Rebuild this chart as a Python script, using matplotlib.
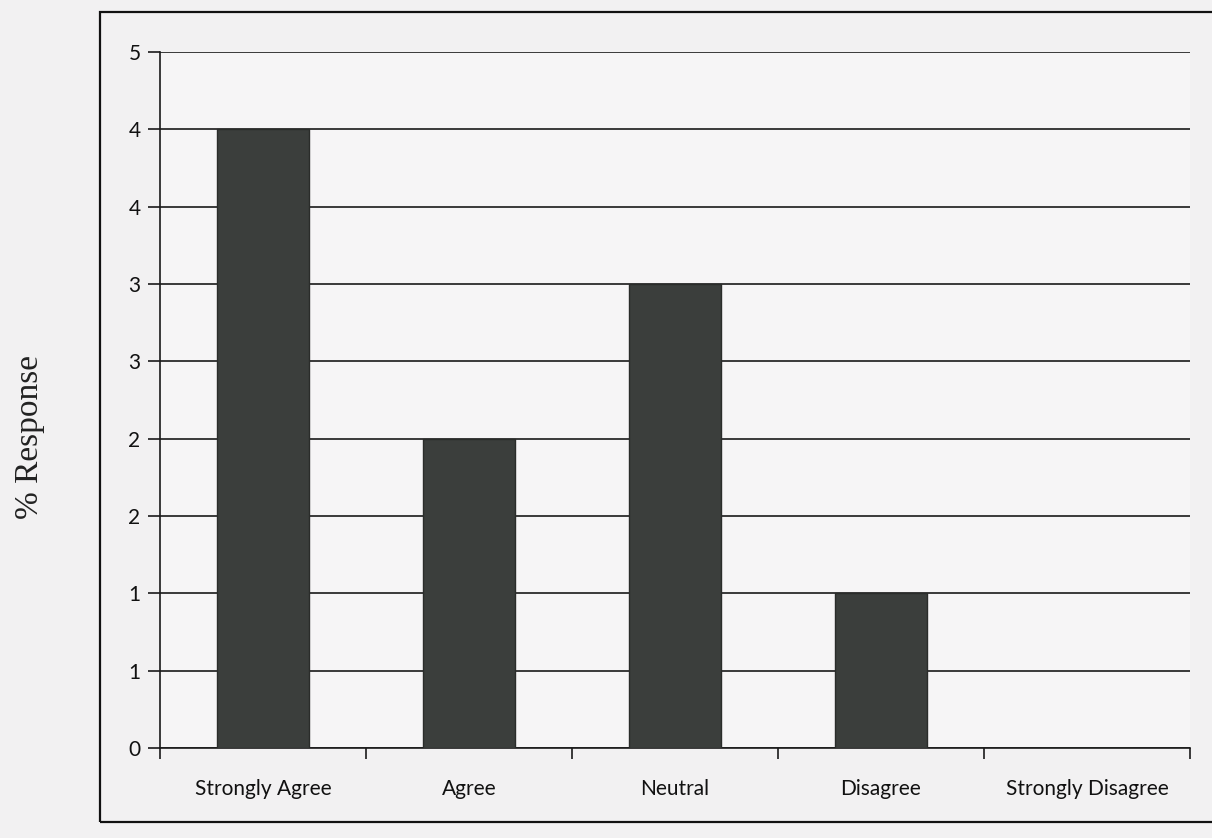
import matplotlib.pyplot as plt
from matplotlib.patches import Rectangle
import numpy as np

categorias = ["Strongly Agree", "Agree", "Neutral", "Disagree", "Strongly Disagree"]
valores = [4, 2, 3, 1, 0]
yticks = [0, 0.5, 1, 1.5, 2, 2.5, 3, 3.5, 4, 4.5]
ytick_labels = ["0", "1", "1", "2", "2", "3", "3", "4", "4", "5"]

fondo = "#f2f1f2"
fig = plt.figure(figsize=(12.12, 8.38), dpi=100, facecolor=fondo)

# marco exterior del grafico
fig.patches.append(Rectangle((100/1212, 1-822/838), 1.2, (822-12)/838,
                             transform=fig.transFigure, fill=False,
                             edgecolor="#111111", linewidth=1.6))

ax = fig.add_axes([160/1212, 1-748/838, (1190-160)/1212, (748-52)/838])
ax.set_facecolor("#f6f5f6")

x = np.arange(len(categorias))
ax.bar(x, valores, width=0.45, color="#3b3e3c", edgecolor="#2a2c2a", zorder=3)

ax.set_xlim(-0.5, len(categorias) - 0.5)
ax.set_ylim(0, 4.5)
ax.set_yticks(yticks)
ax.set_yticklabels(ytick_labels, fontfamily="Lato", fontsize=15, color="#111111")
ax.set_xticks(x)
ax.set_xticklabels(categorias, fontfamily="Lato", fontsize=15, color="#111111")
ax.set_xticks(np.arange(len(categorias) + 1) - 0.5, minor=True)

ax.yaxis.grid(True, color="#1a1a1a", linewidth=1.2, zorder=0)
ax.set_axisbelow(True)
ax.tick_params(axis="y", length=9, width=1.2, color="#1a1a1a", pad=5)
ax.tick_params(axis="x", which="major", length=0, pad=22)
ax.tick_params(axis="x", which="minor", length=8, width=1.2, color="#1a1a1a")

for lado in ["top", "right"]:
    ax.spines[lado].set_visible(False)
for lado in ["left", "bottom"]:
    ax.spines[lado].set_color("#1a1a1a")
    ax.spines[lado].set_linewidth(1.2)

fig.text(30/1212, 1-437/838, "% Response", rotation=90, ha="center", va="center",
         fontfamily="Liberation Serif", fontsize=24, color="#222222")

plt.savefig("out.png", dpi=100, facecolor=fondo)
